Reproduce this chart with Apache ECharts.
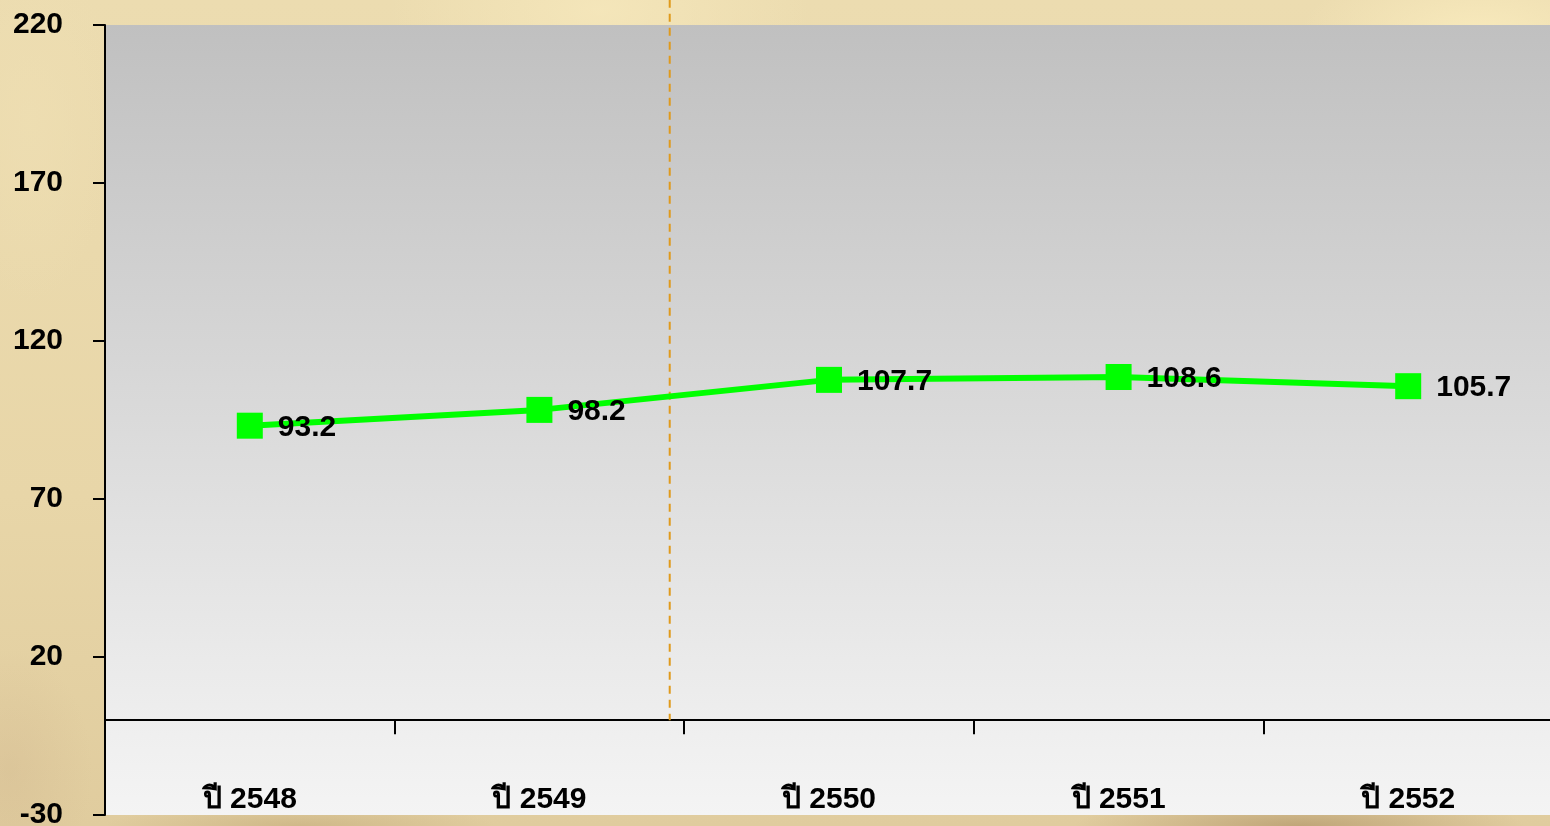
<!DOCTYPE html>
<html>
<head>
<meta charset="utf-8">
<title>ปี 2548 - 2552</title>
<script src="https://cdn.jsdelivr.net/npm/echarts@6/dist/echarts.min.js"></script>
<style>
  html, body { margin: 0; padding: 0; width: 1550px; height: 826px; overflow: hidden; }
  body {
    background:
      radial-gradient(ellipse 260px 120px at 1480px 40px, rgba(250,236,190,0.9), rgba(250,236,190,0) 70%),
      radial-gradient(ellipse 300px 160px at 600px 10px, rgba(246,232,188,0.8), rgba(246,232,188,0) 70%),
      radial-gradient(ellipse 120px 260px at 30px 120px, rgba(238,222,178,0.8), rgba(238,222,178,0) 70%),
      radial-gradient(ellipse 110px 160px at 10px 770px, rgba(205,178,140,0.3), rgba(205,178,140,0) 75%),
      radial-gradient(ellipse 300px 40px at 1300px 826px, rgba(170,140,95,0.6), rgba(170,140,95,0) 75%),
      radial-gradient(ellipse 260px 30px at 300px 826px, rgba(190,165,115,0.5), rgba(190,165,115,0) 75%),
      linear-gradient(180deg, #ecdcb0 0%, #e8d6a8 60%, #e0cc9e 100%);
  }
  #chart { width: 1550px; height: 826px; }
</style>
</head>
<body>
<div id="chart"></div>
<script>
// Yearly index values, Thai Buddhist-era years
const years = ['ปี 2548', 'ปี 2549', 'ปี 2550', 'ปี 2551', 'ปี 2552'];
const values = [93.2, 98.2, 107.7, 108.6, 105.7];

// Value axis range and step
const yMin = -30;
const yMax = 220;
const yStep = 50;

// Dashed divider: position on a 0..5 scale spanning the category bands, and its vertical extent
const divider = [[1.95, 0, 228]];

const font = '"Liberation Sans", Arial, Helvetica, sans-serif';

const chart = echarts.init(document.getElementById('chart'), null, { renderer: 'canvas' });

chart.setOption({
  animation: false,
  backgroundColor: 'transparent',
  grid: {
    left: 105,
    top: 25,
    width: 1448,
    height: 790,
    containLabel: false,
    outerBoundsMode: 'none',
    show: true,
    borderWidth: 0,
    backgroundColor: {
      type: 'linear', x: 0, y: 0, x2: 0, y2: 1,
      colorStops: [
        { offset: 0, color: '#c0c0c0' },
        { offset: 0.88, color: '#eeeeee' },
        { offset: 1, color: '#f4f4f4' }
      ]
    }
  },
  xAxis: [
    {
      type: 'category',
      data: years,
      boundaryGap: true,
      axisLine: { show: true, onZero: true, lineStyle: { color: '#000', width: 2 } },
      axisTick: { show: true, length: 14, inside: false, alignWithLabel: false,
                  lineStyle: { color: '#000', width: 2 } },
      axisLabel: { margin: -30, color: '#000', fontSize: 30, fontWeight: 'bold', fontFamily: font },
      splitLine: { show: false }
    },
    {
      type: 'value',
      min: 0,
      max: 5,
      show: false
    }
  ],
  yAxis: {
    type: 'value',
    min: yMin,
    max: yMax,
    interval: yStep,
    axisLine: { show: true, lineStyle: { color: '#000', width: 2 } },
    axisTick: { show: true, length: 12, inside: false, lineStyle: { color: '#000', width: 2 } },
    axisLabel: { margin: 42, color: '#000', fontSize: 30, fontWeight: 'bold', fontFamily: font },
    splitLine: { show: false }
  },
  series: [
    {
      type: 'custom',
      xAxisIndex: 1,
      data: divider,
      silent: true,
      clip: false,
      z: 1,
      renderItem: function (params, api) {
        const top = api.coord([api.value(0), api.value(2)]);
        const bottom = api.coord([api.value(0), api.value(1)]);
        return {
          type: 'line',
          shape: { x1: top[0], y1: top[1], x2: bottom[0], y2: bottom[1] },
          style: { stroke: '#e09a1c', lineWidth: 2, lineDash: [8, 6] }
        };
      }
    },
    {
      type: 'line',
      data: values,
      symbol: 'rect',
      symbolSize: 26,
      itemStyle: { color: '#00ff00' },
      lineStyle: { color: '#00ff00', width: 6 },
      label: {
        show: true,
        position: 'right',
        distance: 15,
        offset: [0, 2],
        color: '#000',
        fontSize: 30,
        fontWeight: 'bold',
        fontFamily: font
      },
      z: 3
    }
  ]
});
</script>
</body>
</html>
